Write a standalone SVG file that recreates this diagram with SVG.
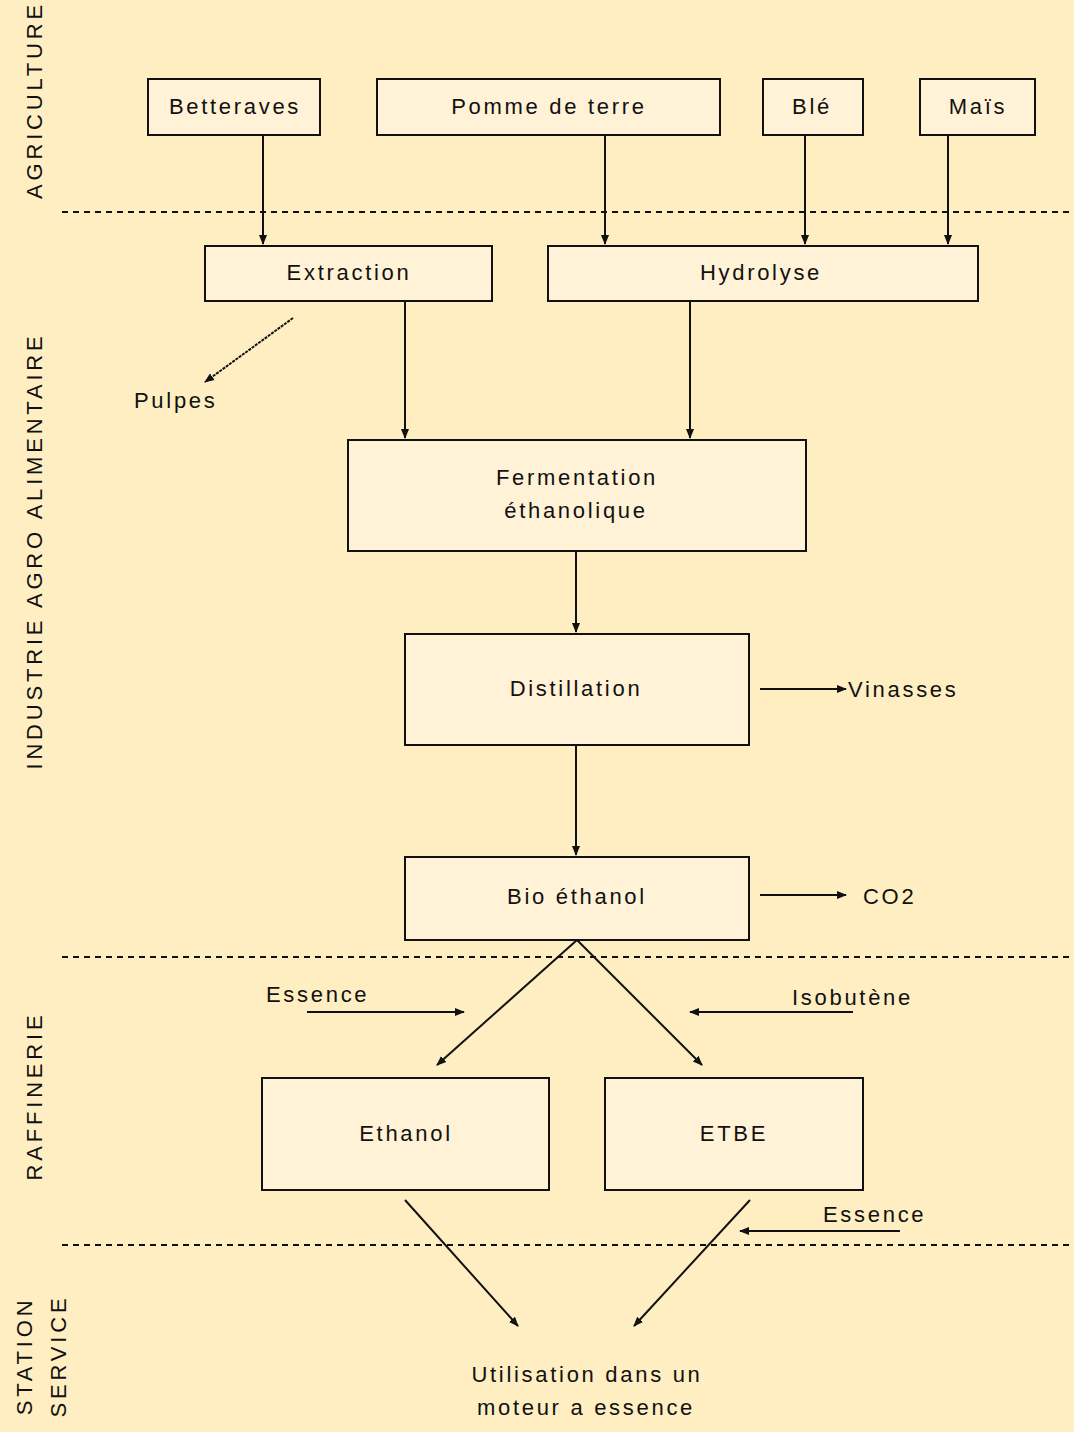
<svg xmlns="http://www.w3.org/2000/svg" width="1074" height="1432" viewBox="0 0 1074 1432">
<style>
.bg{fill:#FEEEC2}
.box{fill:#FFF2D6;stroke:#111;stroke-width:2}
.t{font-family:"Liberation Sans",Arial,sans-serif;font-size:22px;fill:#111;text-anchor:middle;letter-spacing:2.7px}
.tl{font-family:"Liberation Sans",Arial,sans-serif;font-size:22px;fill:#111;letter-spacing:2.7px}
.side{font-family:"Liberation Sans",Arial,sans-serif;font-size:22px;fill:#111;text-anchor:middle;letter-spacing:3.8px}
.dash{stroke:#111;stroke-width:2;stroke-dasharray:6,5;fill:none}
.c{stroke:#111;stroke-width:2;fill:none;marker-end:url(#ah)}
</style>
<defs>
<marker id="ah" viewBox="0 0 10 10" refX="9" refY="5" markerWidth="5" markerHeight="5" orient="auto" markerUnits="strokeWidth">
<path d="M0,1 L10,5 L0,9 z" fill="#111"/>
</marker>
</defs>
<rect class="bg" x="0" y="0" width="1074" height="1432"/>

<g id="sections">
<line class="dash" x1="62" y1="212" x2="1074" y2="212"/>
<line class="dash" x1="62" y1="957" x2="1074" y2="957"/>
<line class="dash" x1="62" y1="1245" x2="1074" y2="1245"/>
<text class="side" transform="translate(42,100) rotate(-90)">AGRICULTURE</text>
<text class="side" transform="translate(42,551) rotate(-90)">INDUSTRIE AGRO ALIMENTAIRE</text>
<text class="side" transform="translate(42,1096) rotate(-90)">RAFFINERIE</text>
<text class="side" transform="translate(32,1356) rotate(-90)">STATION</text>
<text class="side" transform="translate(66,1356) rotate(-90)">SERVICE</text>
</g>

<g id="connectors">
<line class="c" x1="263" y1="135" x2="263" y2="244"/>
<line class="c" x1="605" y1="135" x2="605" y2="244"/>
<line class="c" x1="805" y1="135" x2="805" y2="244"/>
<line class="c" x1="948" y1="135" x2="948" y2="244"/>
<line class="c" x1="405" y1="301" x2="405" y2="438"/>
<line class="c" x1="690" y1="301" x2="690" y2="438"/>
<line class="c" x1="293" y1="318" x2="205" y2="382" stroke-dasharray="3,1"/>
<line class="c" x1="576" y1="551" x2="576" y2="632"/>
<line class="c" x1="576" y1="745" x2="576" y2="855"/>
<line class="c" x1="760" y1="689" x2="846" y2="689"/>
<line class="c" x1="760" y1="895" x2="846" y2="895"/>
<line class="c" x1="577" y1="940" x2="437" y2="1065"/>
<line class="c" x1="577" y1="940" x2="702" y2="1065"/>
<line class="c" x1="307" y1="1012" x2="464" y2="1012"/>
<line class="c" x1="853" y1="1012" x2="690" y2="1012"/>
<line class="c" x1="405" y1="1200" x2="518" y2="1326"/>
<line class="c" x1="750" y1="1200" x2="634" y2="1326"/>
<line class="c" x1="900" y1="1231" x2="740" y2="1231"/>
</g>

<g id="betteraves"><rect class="box" x="148" y="79" width="172" height="56"/><text class="t" x="235" y="114">Betteraves</text></g>
<g id="pomme"><rect class="box" x="377" y="79" width="343" height="56"/><text class="t" x="549" y="114">Pomme de terre</text></g>
<g id="ble"><rect class="box" x="763" y="79" width="100" height="56"/><text class="t" x="812" y="114">Blé</text></g>
<g id="mais"><rect class="box" x="920" y="79" width="115" height="56"/><text class="t" x="978" y="114">Maïs</text></g>
<g id="extraction"><rect class="box" x="205" y="246" width="287" height="55"/><text class="t" x="349" y="280">Extraction</text></g>
<g id="hydrolyse"><rect class="box" x="548" y="246" width="430" height="55"/><text class="t" x="761" y="280">Hydrolyse</text></g>
<g id="pulpes"><text class="tl" x="134" y="408">Pulpes</text></g>
<g id="fermentation"><rect class="box" x="348" y="440" width="458" height="111"/><text class="t" x="577" y="485">Fermentation</text><text class="t" x="576" y="518">éthanolique</text></g>
<g id="distillation"><rect class="box" x="405" y="634" width="344" height="111"/><text class="t" x="576" y="696">Distillation</text></g>
<g id="vinasses"><text class="tl" x="848" y="697">Vinasses</text></g>
<g id="bioethanol"><rect class="box" x="405" y="857" width="344" height="83"/><text class="t" x="577" y="904">Bio éthanol</text></g>
<g id="co2"><text class="tl" x="863" y="904">CO2</text></g>
<g id="essence1"><text class="tl" x="266" y="1002">Essence</text></g>
<g id="isobutene"><text class="tl" x="792" y="1005">Isobutène</text></g>
<g id="ethanol"><rect class="box" x="262" y="1078" width="287" height="112"/><text class="t" x="406" y="1141">Ethanol</text></g>
<g id="etbe"><rect class="box" x="605" y="1078" width="258" height="112"/><text class="t" x="734" y="1141">ETBE</text></g>
<g id="essence2"><text class="tl" x="823" y="1222">Essence</text></g>
<g id="utilisation"><text class="t" x="587" y="1382">Utilisation dans un</text><text class="t" x="586" y="1415">moteur a essence</text></g>
</svg>
